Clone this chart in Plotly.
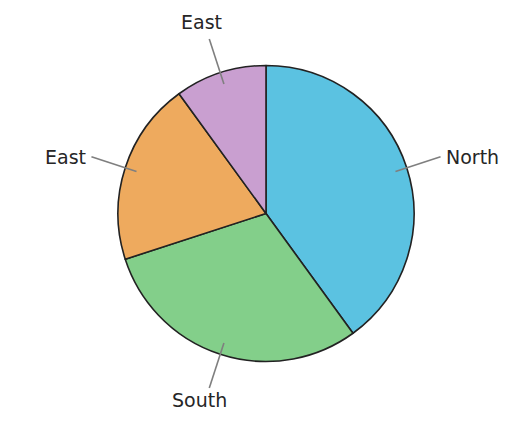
import math
import plotly.graph_objects as go

# slice data, clockwise from 12 o'clock
regions = ["North", "South", "East", "East"]
shares = [40, 30, 20, 10]
colors = ["#5bc2e1", "#83cf8a", "#eeaa5e", "#c99fd0"]

W, H = 532, 439
# the page body adds an 8px margin, so work in figure pixels
cx, cy, r = 266 - 8, 213.5 - 8, 148  # pie centre / radius in pixels

fig = go.Figure(go.Pie(
    labels=[str(i) for i in range(len(regions))],
    values=shares,
    text=regions,
    hovertemplate="%{text}: %{value}<extra></extra>",
    textinfo="none",
    sort=False,
    direction="clockwise",
    rotation=0,
    marker=dict(colors=colors, line=dict(color="#222222", width=1.6)),
    domain=dict(x=[(cx - r) / W, (cx + r) / W],
                y=[(H - cy - r) / H, (H - cy + r) / H]),
    showlegend=False,
))

total = sum(shares)
start = 0.0
for name, v in zip(regions, shares):
    mid = (start + v / 2) / total * 2 * math.pi
    start += v
    dx, dy = math.sin(mid), -math.cos(mid)
    x0, y0 = cx + 0.92 * r * dx, cy + 0.92 * r * dy
    x1, y1 = cx + 1.24 * r * dx, cy + 1.24 * r * dy
    fig.add_shape(type="line", xref="paper", yref="paper",
                  x0=x0 / W, y0=1 - y0 / H, x1=x1 / W, y1=1 - y1 / H,
                  line=dict(color="#7f7f7f", width=1.6))
    if abs(dx) > 0.6:
        xa, ya = ("left" if dx > 0 else "right"), "middle"
        xs, ys = (3 if dx > 0 else -3), 0
    else:
        xa, ya = "center", ("bottom" if dy < 0 else "top")
        xs, ys = (-8, 4) if dy < 0 else (-10, 1)
    fig.add_annotation(x=x1 / W, y=1 - y1 / H, xref="paper", yref="paper",
                       text=name, showarrow=False, xanchor=xa, yanchor=ya,
                       xshift=xs, yshift=ys,
                       font=dict(family="DejaVu Sans", size=19, color="#262626"))

fig.update_layout(
    width=W, height=H,
    margin=dict(l=0, r=0, t=0, b=0),
    paper_bgcolor="white",
    plot_bgcolor="white",
)

fig.write_html("out.html")
